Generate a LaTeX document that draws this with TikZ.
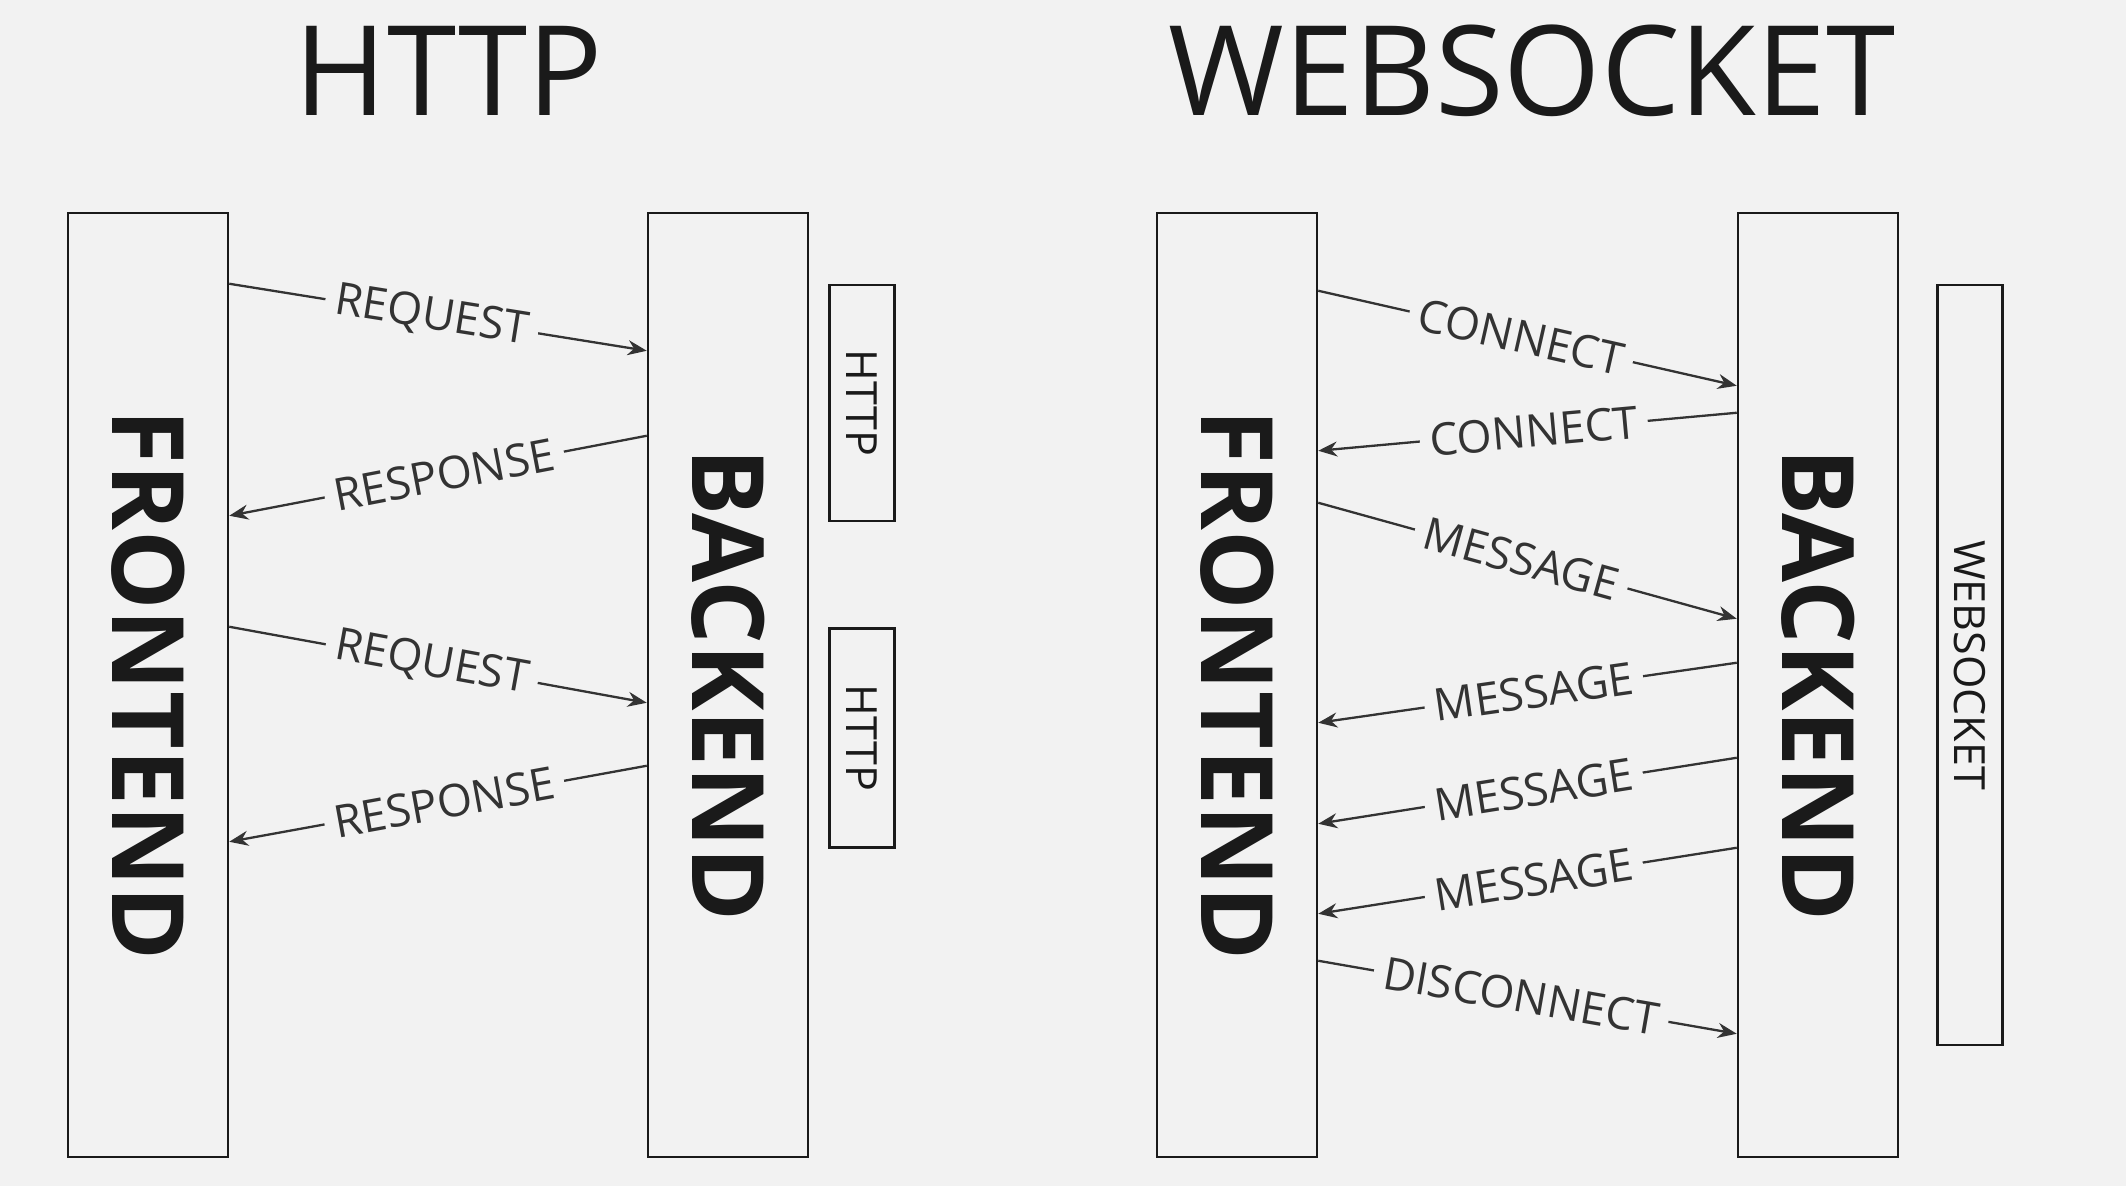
\documentclass[tikz,border=0pt]{standalone}
\usepackage{fontspec}
\setmainfont{Open Sans}
\usetikzlibrary{arrows.meta}
\definecolor{bgcol}{HTML}{F2F2F2}
\definecolor{inkcol}{HTML}{1A1A1A}
\definecolor{linecol}{HTML}{333333}

\begin{document}
\begin{tikzpicture}[x=1pt, y=-1pt,
    sidebox/.style={draw=inkcol, line width=2.5pt, fill=bgcol, minimum width=160pt, minimum height=944pt, inner sep=0pt, text=inkcol, font=\fontsize{100}{116}\selectfont\bfseries},
    tagbox/.style={draw=inkcol, line width=2.5pt, fill=bgcol, minimum width=65pt, inner sep=0pt, text=inkcol, font=\fontsize{43}{50}\selectfont},
    headline/.style={text=inkcol, inner sep=0pt, font=\fontsize{125}{145}\selectfont},
    msgarrow/.style={-{Stealth[length=19pt,width=15pt]}, line width=2.3pt, draw=linecol},
    msglabel/.style={pos=0.485, sloped, fill=bgcol, text=linecol, inner xsep=10pt, inner ysep=2pt, font=\fontsize{45}{52}\selectfont}]

    \fill[bgcol] (0,0) rectangle (2126,1186);
    \useasboundingbox (0,0) rectangle (2126,1186);

    \node[headline] (httptitle) at (449,71) {HTTP};
    \node[headline] (wstitle) at (1532,71) {WEBSOCKET};

    \node[sidebox] (hf) at (148,685) {\rotatebox{-90}{FRONTEND}};
    \node[sidebox] (hb) at (728,685) {\rotatebox{-90}{BACKEND}};
    \node[tagbox, minimum height=236pt] (httpone) at (862,403) {\rotatebox{-90}{HTTP}};
    \node[tagbox, minimum height=219pt] (httptwo) at (862,738) {\rotatebox{-90}{HTTP}};

    \node[sidebox] (wf) at (1237,685) {\rotatebox{-90}{FRONTEND}};
    \node[sidebox] (wb) at (1818,685) {\rotatebox{-90}{BACKEND}};
    \node[tagbox, minimum height=760pt] (wstag) at (1970,665) {\rotatebox{-90}{WEBSOCKET}};

    \draw[msgarrow] ([yshift=-72pt]hf.north east) -- node[msglabel] {REQUEST} ([yshift=-139pt]hb.north west);
    \draw[msgarrow] ([yshift=-224pt]hb.north west) -- node[msglabel] {RESPONSE} ([yshift=-304pt]hf.north east);
    \draw[msgarrow] ([yshift=-415pt]hf.north east) -- node[msglabel] {REQUEST} ([yshift=-491pt]hb.north west);
    \draw[msgarrow] ([yshift=-554pt]hb.north west) -- node[msglabel] {RESPONSE} ([yshift=-630pt]hf.north east);

    \draw[msgarrow] ([yshift=-79pt]wf.north east) -- node[msglabel] {CONNECT} ([yshift=-174pt]wb.north west);
    \draw[msgarrow] ([yshift=-201pt]wb.north west) -- node[msglabel] {CONNECT} ([yshift=-239pt]wf.north east);
    \draw[msgarrow] ([yshift=-291pt]wf.north east) -- node[msglabel] {MESSAGE} ([yshift=-407pt]wb.north west);
    \draw[msgarrow] ([yshift=-451pt]wb.north west) -- node[msglabel] {MESSAGE} ([yshift=-511pt]wf.north east);
    \draw[msgarrow] ([yshift=-546pt]wb.north west) -- node[msglabel] {MESSAGE} ([yshift=-612pt]wf.north east);
    \draw[msgarrow] ([yshift=-636pt]wb.north west) -- node[msglabel] {MESSAGE} ([yshift=-702pt]wf.north east);
    \draw[msgarrow] ([yshift=-749pt]wf.north east) -- node[msglabel] {DISCONNECT} ([yshift=-822pt]wb.north west);
\end{tikzpicture}
\end{document}
